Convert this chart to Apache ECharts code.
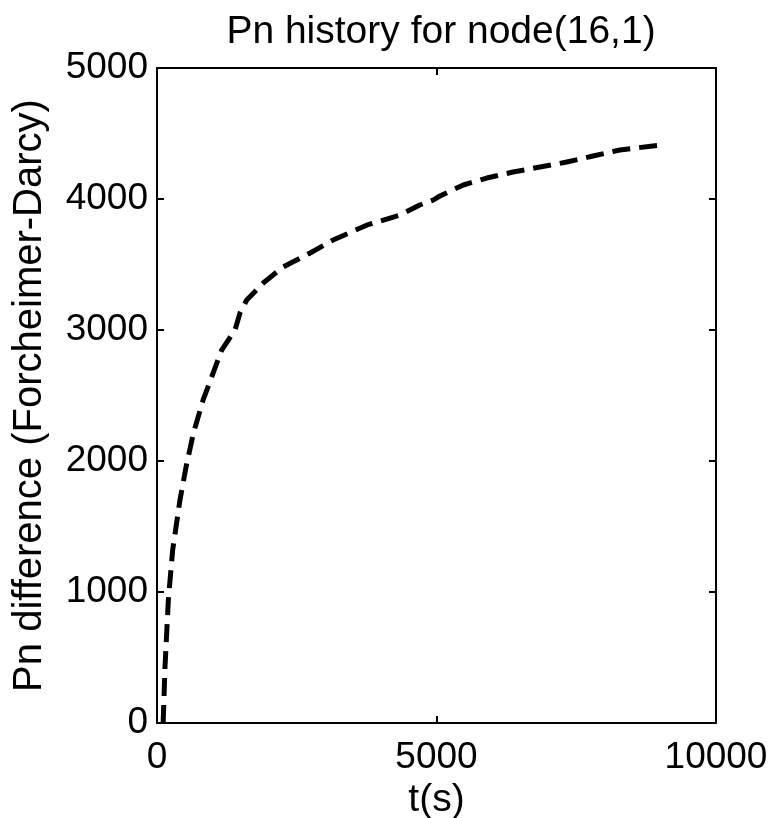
<!DOCTYPE html>
<html>
<head>
<meta charset="utf-8">
<script src="https://cdn.jsdelivr.net/npm/echarts@6/dist/echarts.min.js"></script>
<style>html,body{margin:0;padding:0;background:#fff}#c{width:774px;height:818px}</style>
</head>
<body>
<div id="c"></div>
<script>
var titleText = 'Pn history for node(16,1)';
var xName = 't(s)';
var yName = 'Pn difference (Forcheimer-Darcy)';
var xTicks = [0, 5000, 10000];
var yTicks = [0, 1000, 2000, 3000, 4000, 5000];
var tValues = [110, 143, 203, 280, 410, 520, 650, 825, 1157, 1395, 1485, 1605, 1900, 2255, 2740, 3150, 3760, 4350, 4700, 4940, 5060, 5480, 5900, 6370, 6850, 7330, 7800, 8280, 8870, 9000];
var pnValues = [0, 427, 940, 1320, 1700, 1955, 2210, 2466, 2847, 3000, 3130, 3229, 3359, 3481, 3588, 3687, 3802, 3878, 3954, 3992, 4023, 4107, 4160, 4206, 4244, 4282, 4328, 4374, 4405, 4410];

var data = tValues.map(function (t, i) { return [t, pnValues[i]]; });
var font = 'Liberation Sans, Arial, sans-serif';
var lineStyle = { color: '#000', width: 2 };
var fmt = function (v) { return String(v); };
var chart = echarts.init(document.getElementById('c'));
chart.setOption({
  animation: false,
  backgroundColor: '#fff',
  title: { text: titleText, left: 436, textAlign: 'center', top: 8,
    textStyle: { fontFamily: font, fontSize: 39, fontWeight: 'normal', color: '#000' } },
  grid: { left: 157, right: 58, top: 68, bottom: 95, containLabel: false, outerBoundsMode: 'none' },
  xAxis: [{
    type: 'value', min: xTicks[0], max: xTicks[xTicks.length - 1], interval: xTicks[1] - xTicks[0], position: 'bottom',
    name: xName, nameLocation: 'middle', nameGap: 56,
    nameTextStyle: { fontFamily: font, fontSize: 39, color: '#000' },
    axisLine: { show: true, onZero: false, lineStyle: lineStyle },
    axisTick: { show: true, inside: true, length: 7, lineStyle: lineStyle },
    axisLabel: { fontFamily: font, fontSize: 37, color: '#000', margin: 16, formatter: fmt },
    splitLine: { show: false }
  }, {
    type: 'value', min: xTicks[0], max: xTicks[xTicks.length - 1], interval: xTicks[1] - xTicks[0], position: 'top',
    axisLine: { show: true, onZero: false, lineStyle: lineStyle },
    axisTick: { show: true, inside: true, length: 7, lineStyle: lineStyle },
    axisLabel: { show: false }, splitLine: { show: false }
  }],
  yAxis: [{
    type: 'value', min: yTicks[0], max: yTicks[yTicks.length - 1], interval: yTicks[1] - yTicks[0], position: 'left',
    name: yName, nameLocation: 'middle', nameGap: 107, nameRotate: 90,
    nameTextStyle: { fontFamily: font, fontSize: 40, color: '#000' },
    axisLine: { show: true, onZero: false, lineStyle: lineStyle },
    axisTick: { show: true, inside: true, length: 7, lineStyle: lineStyle },
    axisLabel: { fontFamily: font, fontSize: 37, color: '#000', margin: 9, formatter: fmt },
    splitLine: { show: false }
  }, {
    type: 'value', min: yTicks[0], max: yTicks[yTicks.length - 1], interval: yTicks[1] - yTicks[0], position: 'right',
    axisLine: { show: true, onZero: false, lineStyle: lineStyle },
    axisTick: { show: true, inside: true, length: 7, lineStyle: lineStyle },
    axisLabel: { show: false }, splitLine: { show: false }
  }],
  series: [{
    type: 'line', data: data, xAxisIndex: 0, yAxisIndex: 0,
    showSymbol: false, symbol: 'none',
    lineStyle: { color: '#000', width: 5, type: [18, 9] }
  }]
});
</script>
</body>
</html>
